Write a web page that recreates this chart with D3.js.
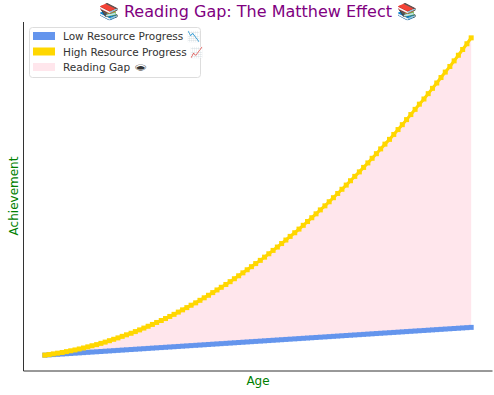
<!DOCTYPE html>
<html>
<head>
<meta charset="utf-8">
<script src="https://cdn.jsdelivr.net/npm/d3@7"></script>
<style>
  body { margin: 0; background: #fff; }
  text { font-family: "DejaVu Sans", sans-serif; }
</style>
</head>
<body>
<script>
// ages (years), 100 samples
var ages = [5.00, 5.13, 5.26, 5.39, 5.53, 5.66, 5.79, 5.92, 6.05, 6.18,
    6.31, 6.44, 6.58, 6.71, 6.84, 6.97, 7.10, 7.23, 7.36, 7.49,
    7.63, 7.76, 7.89, 8.02, 8.15, 8.28, 8.41, 8.55, 8.68, 8.81,
    8.94, 9.07, 9.20, 9.33, 9.46, 9.60, 9.73, 9.86, 9.99, 10.12,
    10.25, 10.38, 10.52, 10.65, 10.78, 10.91, 11.04, 11.17, 11.30, 11.43,
    11.57, 11.70, 11.83, 11.96, 12.09, 12.22, 12.35, 12.48, 12.62, 12.75,
    12.88, 13.01, 13.14, 13.27, 13.40, 13.54, 13.67, 13.80, 13.93, 14.06,
    14.19, 14.32, 14.45, 14.59, 14.72, 14.85, 14.98, 15.11, 15.24, 15.37,
    15.51, 15.64, 15.77, 15.90, 16.03, 16.16, 16.29, 16.42, 16.56, 16.69,
    16.82, 16.95, 17.08, 17.21, 17.35, 17.48, 17.61, 17.74, 17.87, 18.00];

var lowProgress = [21, 23, 25, 27, 29, 31, 33, 35, 37, 39,
    41, 43, 45, 47, 49, 51, 53, 55, 57, 59,
    61, 63, 65, 67, 69, 71, 73, 75, 77, 79,
    81, 83, 85, 87, 89, 91, 93, 95, 97, 99,
    101, 103, 105, 107, 109, 111, 113, 115, 117, 119,
    121, 123, 125, 127, 129, 131, 133, 135, 137, 139,
    141, 143, 145, 147, 149, 151, 153, 155, 157, 159,
    161, 163, 165, 167, 169, 171, 173, 175, 177, 179,
    181, 183, 185, 187, 189, 191, 193, 195, 197, 199,
    201, 203, 205, 207, 209, 211, 213, 215, 217, 219];

var highProgress = [21, 25, 30, 35, 40, 46, 52, 58, 65, 72,
    80, 88, 96, 105, 114, 124, 134, 144, 155, 166,
    177, 189, 201, 214, 227, 240, 254, 268, 282, 297,
    312, 328, 344, 360, 377, 394, 412, 430, 448, 467,
    486, 505, 525, 545, 566, 587, 608, 630, 652, 674,
    697, 720, 744, 768, 792, 817, 842, 868, 894, 920,
    947, 974, 1001, 1029, 1057, 1086, 1115, 1144, 1174, 1204,
    1234, 1265, 1296, 1328, 1360, 1392, 1425, 1458, 1492, 1526,
    1560, 1595, 1630, 1665, 1701, 1737, 1774, 1811, 1848, 1886,
    1924, 1962, 2001, 2040, 2080, 2120, 2160, 2201, 2242, 2284];

var legendLabels = ["Low Resource Progress \uD83D\uDCC9",
                    "High Resource Progress \uD83D\uDCC8",
                    "Reading Gap \uD83D\uDD73"];
var legendColors = ["#6495ed", "#ffd700", "#ffe6ec"];

var width = 494,
    height = 395;

var plot = {left: 23.5, right: 492.5, top: 22, bottom: 371};

var svg = d3.select("body").append("svg")
    .attr("width", width)
    .attr("height", height);

var data = ages.map(function(a, i) {
    return {age: a, low: lowProgress[i], high: highProgress[i]};
});

// matplotlib style 5% margins
var xExt = d3.extent(ages),
    xPad = (xExt[1] - xExt[0]) * 0.05;
var yMin = d3.min(lowProgress.concat(highProgress)),
    yMax = d3.max(lowProgress.concat(highProgress)),
    yPad = (yMax - yMin) * 0.05;

var x = d3.scaleLinear()
    .domain([xExt[0] - xPad, xExt[1] + xPad])
    .range([plot.left, plot.right]);

var y = d3.scaleLinear()
    .domain([yMin - yPad, yMax + yPad])
    .range([plot.bottom, plot.top]);

// gap fill
var area = d3.area()
    .x(function(d) { return x(d.age); })
    .y0(function(d) { return y(d.low); })
    .y1(function(d) { return y(d.high); });

svg.append("path")
    .datum(data)
    .attr("d", area)
    .attr("fill", "#ffe6ec");

// lines with square markers
function drawSeries(key, color) {
    var line = d3.line()
        .x(function(d) { return x(d.age); })
        .y(function(d) { return y(d[key]); });

    svg.append("path")
        .datum(data)
        .attr("d", line)
        .attr("fill", "none")
        .attr("stroke", color)
        .attr("stroke-width", 3);

    svg.append("g")
        .selectAll("rect")
        .data(data)
        .enter()
        .append("rect")
        .attr("x", function(d) { return x(d.age) - 2.5; })
        .attr("y", function(d) { return y(d[key]) - 2.5; })
        .attr("width", 5)
        .attr("height", 5)
        .attr("fill", color);
}

drawSeries("low", "#6495ed");
drawSeries("high", "#ffd700");

// spines (no tick labels)
svg.append("line")
    .attr("x1", plot.left).attr("x2", plot.left)
    .attr("y1", plot.top).attr("y2", plot.bottom)
    .attr("stroke", "#333").attr("stroke-width", 1);
svg.append("line")
    .attr("x1", plot.left).attr("x2", plot.right)
    .attr("y1", plot.bottom).attr("y2", plot.bottom)
    .attr("stroke", "#333").attr("stroke-width", 1);

// title and axis labels
svg.append("text")
    .attr("x", 258)
    .attr("y", 17)
    .attr("text-anchor", "middle")
    .attr("fill", "#800080")
    .style("font-size", "16px")
    .text("\uD83D\uDCDA Reading Gap: The Matthew Effect \uD83D\uDCDA");

svg.append("text")
    .attr("x", 258)
    .attr("y", 385)
    .attr("text-anchor", "middle")
    .attr("fill", "green")
    .style("font-size", "12px")
    .text("Age");

svg.append("text")
    .attr("transform", "translate(18,196) rotate(-90)")
    .attr("text-anchor", "middle")
    .attr("fill", "green")
    .style("font-size", "12px")
    .text("Achievement");

// legend
var legend = svg.append("g");
legend.append("rect")
    .attr("x", 29.5).attr("y", 27.5)
    .attr("width", 171).attr("height", 50)
    .attr("rx", 3)
    .attr("fill", "#fff")
    .attr("fill-opacity", 0.8)
    .attr("stroke", "#ddd");

legendLabels.forEach(function(label, i) {
    var cy = 36 + i * 15.5;
    legend.append("rect")
        .attr("x", 33).attr("y", cy - 4)
        .attr("width", 22).attr("height", 8)
        .attr("fill", legendColors[i]);
    legend.append("text")
        .attr("x", 63).attr("y", cy + 4)
        .attr("fill", "#333")
        .style("font-size", "10.5px")
        .text(label);
});
</script>
</body>
</html>
